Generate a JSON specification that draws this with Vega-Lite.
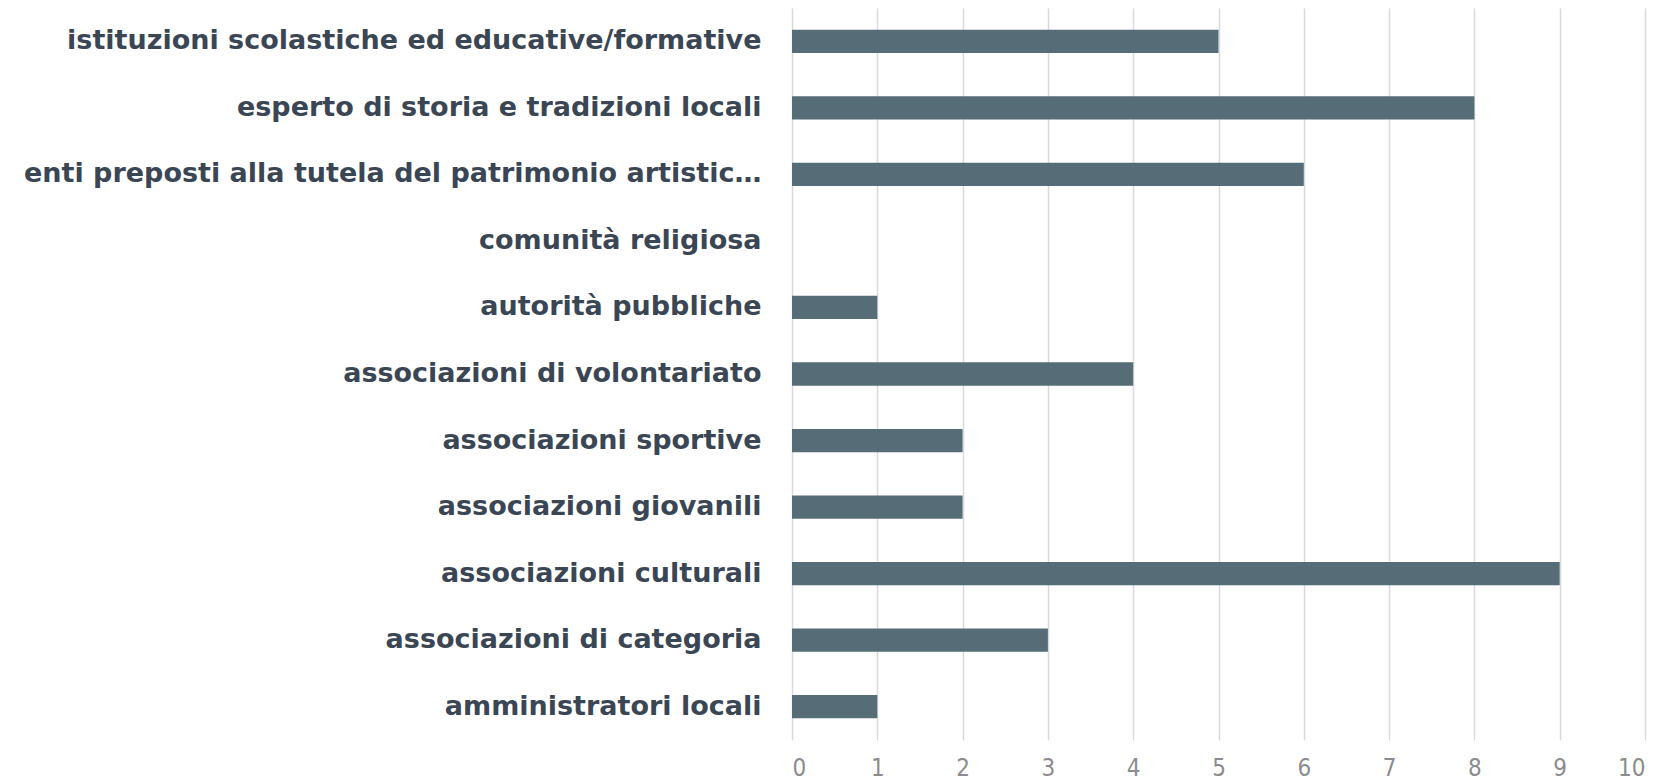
{
  "$schema": "https://vega.github.io/schema/vega-lite/v6.json",
  "autosize": "none",
  "width": 853,
  "height": 732,
  "padding": {"left": 792, "top": 8, "right": 20, "bottom": 40},
  "background": "white",
  "data": {
    "values": [
      {"categoria": "istituzioni scolastiche ed educative/formative", "valore": 5},
      {"categoria": "esperto di storia e tradizioni locali", "valore": 8},
      {"categoria": "enti preposti alla tutela del patrimonio artistico e culturale", "valore": 6},
      {"categoria": "comunità religiosa", "valore": 0},
      {"categoria": "autorità pubbliche", "valore": 1},
      {"categoria": "associazioni di volontariato", "valore": 4},
      {"categoria": "associazioni sportive", "valore": 2},
      {"categoria": "associazioni giovanili", "valore": 2},
      {"categoria": "associazioni culturali", "valore": 9},
      {"categoria": "associazioni di categoria", "valore": 3},
      {"categoria": "amministratori locali", "valore": 1}
    ]
  },
  "mark": {"type": "bar", "color": "#566D78"},
  "encoding": {
    "y": {
      "field": "categoria",
      "type": "nominal",
      "sort": null,
      "scale": {"paddingInner": 0.65, "paddingOuter": 0.325},
      "axis": {
        "title": null,
        "ticks": false,
        "domain": false,
        "labelFont": "DejaVu Sans",
        "labelFontWeight": "bold",
        "labelFontSize": 27,
        "labelColor": "#3B4654",
        "labelPadding": 31,
        "labelLimit": 750
      }
    },
    "x": {
      "field": "valore",
      "type": "quantitative",
      "scale": {"domain": [0, 10]},
      "axis": {
        "title": null,
        "values": [0, 1, 2, 3, 4, 5, 6, 7, 8, 9, 10],
        "ticks": false,
        "domain": false,
        "grid": true,
        "gridColor": "#D9D9D9",
        "gridWidth": 1.5,
        "labelFont": "DejaVu Sans Condensed",
        "labelFontSize": 24,
        "labelColor": "#8C8C8C",
        "labelPadding": 16
      }
    }
  },
  "config": {"view": {"stroke": null}}
}
